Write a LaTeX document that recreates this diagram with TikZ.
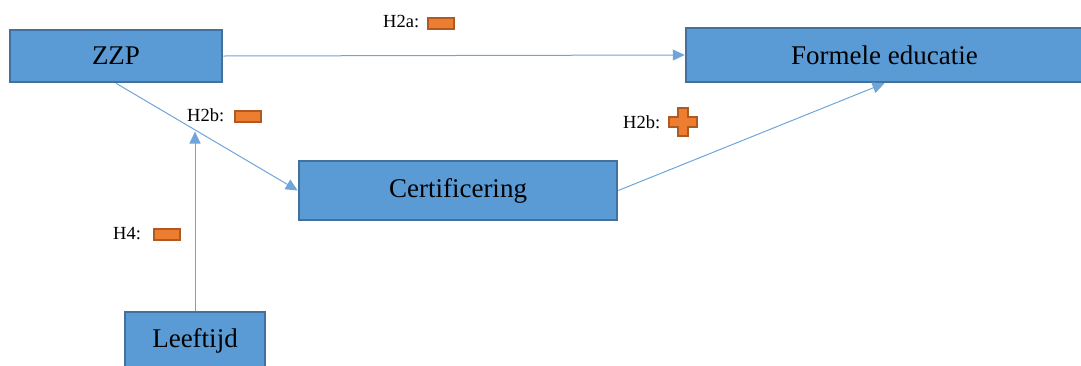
\documentclass[tikz,border=0pt]{standalone}
\usepackage{fontspec}
\setmainfont{Liberation Serif}
\usetikzlibrary{arrows.meta,calc}
\definecolor{boxfill}{HTML}{5B9BD5}
\definecolor{boxline}{HTML}{41719C}
\definecolor{conn}{HTML}{6FA5DA}
\definecolor{orfill}{HTML}{ED7D31}
\definecolor{orline}{HTML}{AE5A21}
\tikzset{
  varbox/.style={draw=boxline,fill=boxfill,line width=2.5pt,inner sep=0pt,
    font=\fontsize{27}{30}\selectfont},
  conn/.style={draw=conn,line width=1pt,-{Triangle[length=12pt,width=11pt]}},
  lab/.style={anchor=west,inner sep=0pt,font=\fontsize{18.5}{20}\selectfont},
  minus/.style={draw=orline,fill=orfill,line width=2pt,minimum width=26pt,minimum height=11pt,inner sep=0pt}
}
\begin{document}
\begin{tikzpicture}[x=1pt,y=-1pt]
\useasboundingbox (0,0) rectangle (1081,365);
\clip (0,0) rectangle (1081,365);
\node[varbox,minimum width=212pt,minimum height=52pt] (zzp) at (116,56) {ZZP};
\node[varbox,minimum width=397pt,minimum height=54pt] (form) at (884.5,55) {Formele educatie};
\node[varbox,minimum width=318pt,minimum height=59pt] (cert) at (458,190.5) {Certificering};
\node[varbox,minimum width=140pt,minimum height=58pt] (leef) at (195,341) {Leeftijd};
\coordinate (m) at ($(zzp.south)!0.45!(cert.west)$);
\draw[conn] (zzp.east) -- (form.west);
\draw[conn] (zzp.south) -- (cert.west);
\draw[conn] (cert.east) -- (form.south);
\draw[conn] (leef.north) -- (leef.north |- m);
\node[lab] (l1) at (383,22) {H2a:};
\node[minus] (s1) at (440.5,23.5) {};
\node[lab] (l2) at (187,115) {H2b:};
\node[minus] (s2) at (248,116) {};
\node[lab] (l3) at (623,122) {H2b:};
\node[lab] (l4) at (113,234) {H4:};
\node[minus] (s4) at (167,234) {};
\begin{scope}[shift={(683,122)}]
\draw[draw=orline,fill=orfill,line width=2pt]
 (-5,-14) -- (5,-14) -- (5,-5) -- (14,-5) -- (14,5) -- (5,5) -- (5,14)
 -- (-5,14) -- (-5,5) -- (-14,5) -- (-14,-5) -- (-5,-5) -- cycle;
\end{scope}
\end{tikzpicture}
\end{document}
